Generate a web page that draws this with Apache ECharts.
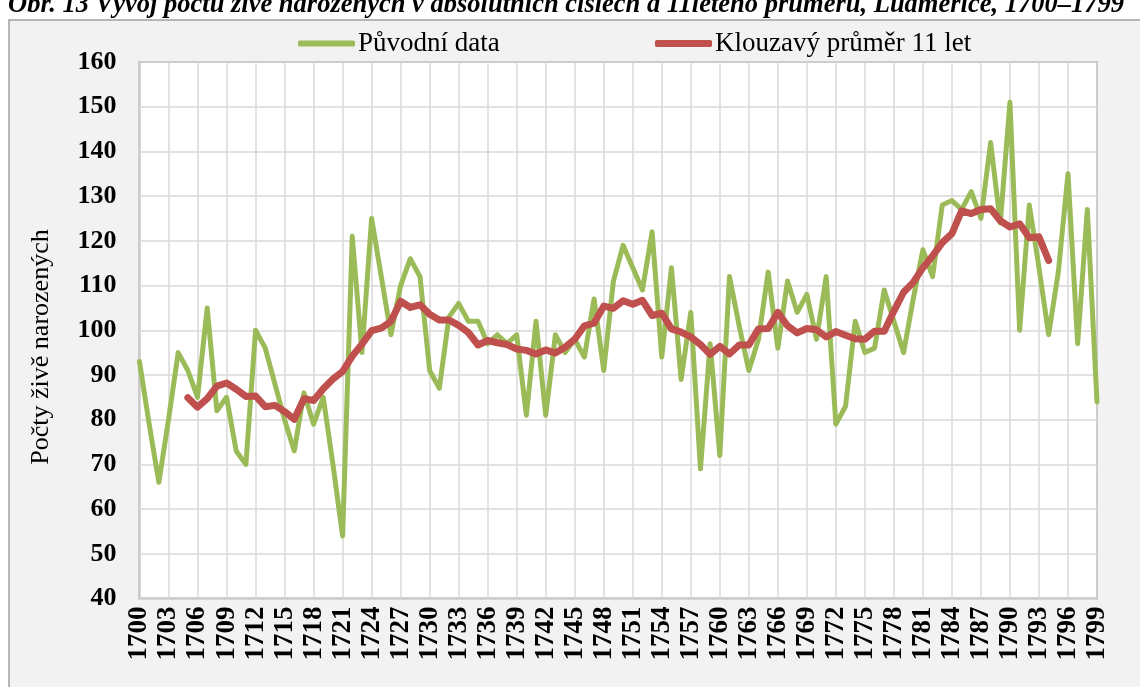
<!DOCTYPE html>
<html>
<head>
<meta charset="utf-8">
<script src="https://cdn.jsdelivr.net/npm/echarts@6/dist/echarts.min.js"></script>
<style>
  html, body { margin: 0; padding: 0; background: #fff; }
  #chart { width: 1140px; height: 687px; }
</style>
</head>
<body>
<div id="chart"></div>
<script>
// births per year, Ludmeřice 1700-1799
var years = [];
for (var y = 1700; y <= 1799; y++) years.push(String(y));

var puvodni = [
  93, 79, 66, 80, 95, 91, 85, 105, 82, 85,
  73, 70, 100, 96, 88, 80, 73, 86, 79, 85,
  70, 54, 121, 95, 125, 112, 99, 110, 116, 112,
  91, 87, 103, 106, 102, 102, 97, 99, 97, 99,
  81, 102, 81, 99, 95, 98, 94, 107, 91, 111,
  119, 114, 109, 122, 94, 114, 89, 104, 69, 97,
  72, 112, 101, 91, 98, 113, 96, 111, 104, 108,
  98, 112, 79, 83, 102, 95, 96, 109, 102, 95,
  107, 118, 112, 128, 129, 127, 131, 125, 142, 124,
  151, 100, 128, 114, 99, 113, 135, 97, 127, 84
];

// 11-year moving average (1705-1794), empty at both ends
var klouzavy = [
  null, null, null, null, null,
  84.9, 82.8, 84.7, 87.5, 88.2, 86.8, 85.2, 85.3, 82.9, 83.2,
  81.8, 80.1, 84.7, 84.3, 86.9, 89.1, 90.8, 94.2, 96.9, 99.9,
  100.5, 102.0, 106.5, 105.1, 105.7, 103.6, 102.3, 102.3, 101.1, 99.5,
  96.7, 97.7, 97.2, 96.8, 95.8, 95.5, 94.7, 95.6, 94.9, 96.2,
  98.0, 101.0, 101.6, 105.4, 104.9, 106.6, 105.8, 106.7, 103.3, 103.8,
  100.3, 99.6, 98.5, 96.8, 94.6, 96.4, 94.7, 96.7, 96.7, 100.3,
  100.4, 104.0, 101.0, 99.4, 100.4, 100.1, 98.5, 99.7, 98.9, 98.1,
  98.0, 99.8, 99.8, 104.3, 108.5, 110.7, 114.0, 116.6, 119.6, 121.6,
  126.7, 126.1, 127.0, 127.2, 124.5, 123.1, 123.8, 120.7, 120.9, 115.6,
  null, null, null, null, null
];

var serif = '"Liberation Serif", "DejaVu Serif", serif';

var chart = echarts.init(document.getElementById('chart'));

var option = {
    backgroundColor: '#fff',
    animation: false,
    graphic: [
        {
            type: 'rect', z: -10, silent: true,
            shape: { x: 9, y: 20, width: 1200, height: 800 },
            style: { fill: '#f2f2f2', stroke: '#a0a0a0', lineWidth: 1.5 }
        },
        {
            // y axis title, sits a bit below the axis middle in the original
            type: 'text', silent: true,
            x: 41, y: 347, rotation: Math.PI / 2,
            style: {
                text: 'Počty živě narozených',
                fontFamily: serif, fontSize: 26, fill: '#000',
                align: 'center', verticalAlign: 'middle'
            }
        }
    ],
    title: {
        text: 'Obr. 13 Vývoj počtu živě narozených v absolutních číslech a 11letého průměru, Ludmeřice, 1700–1799',
        left: 3, top: -13,
        textStyle: { fontFamily: serif, fontSize: 26.5, fontWeight: 'bold', fontStyle: 'italic', color: '#000' }
    },
    legend: [
        {
            data: ['Původní data'],
            left: 298, top: 30, padding: 0,
            icon: 'roundRect', itemWidth: 57, itemHeight: 6,
            textStyle: { fontFamily: serif, fontSize: 27, color: '#000', padding: [0, 0, 0, -2] }
        },
        {
            data: ['Klouzavý průměr 11 let'],
            left: 655, top: 30, padding: 0,
            icon: 'roundRect', itemWidth: 57, itemHeight: 7,
            textStyle: { fontFamily: serif, fontSize: 27, color: '#000', padding: [0, 0, 0, -2] }
        }
    ],
    grid: {
        left: 139.5, right: 43, top: 62, bottom: 88.5,
        show: true, backgroundColor: '#fff', borderColor: '#a6a6a6', borderWidth: 2
    },
    xAxis: {
        type: 'category',
        data: years,
        boundaryGap: false,
        axisLine: { show: false },
        axisTick: { show: false },
        axisLabel: {
            interval: 2, rotate: 90, margin: 8,
            fontFamily: serif, fontSize: 27, fontWeight: 'bold', color: '#000'
        },
        splitLine: { show: true, interval: 2, lineStyle: { color: '#d9d9d9', width: 1.5 } }
    },
    yAxis: {
        type: 'value',
        min: 40, max: 160, interval: 10,
        axisLine: { show: false },
        axisTick: { show: false },
        axisLabel: { margin: 23, fontFamily: serif, fontSize: 26, fontWeight: 'bold', color: '#000' },
        splitLine: { show: true, lineStyle: { color: '#d9d9d9', width: 1.5 } }
    },
    series: [
        {
            name: 'Původní data',
            type: 'line',
            data: puvodni,
            symbol: 'none',
            itemStyle: { color: '#9bbb59' },
            lineStyle: { color: '#9bbb59', width: 5, cap: 'round', join: 'round' },
            z: 2
        },
        {
            name: 'Klouzavý průměr 11 let',
            type: 'line',
            data: klouzavy,
            symbol: 'none',
            itemStyle: { color: '#c0504d' },
            lineStyle: { color: '#c0504d', width: 7, cap: 'round', join: 'round' },
            z: 3
        }
    ]
};

chart.setOption(option);
</script>
</body>
</html>
